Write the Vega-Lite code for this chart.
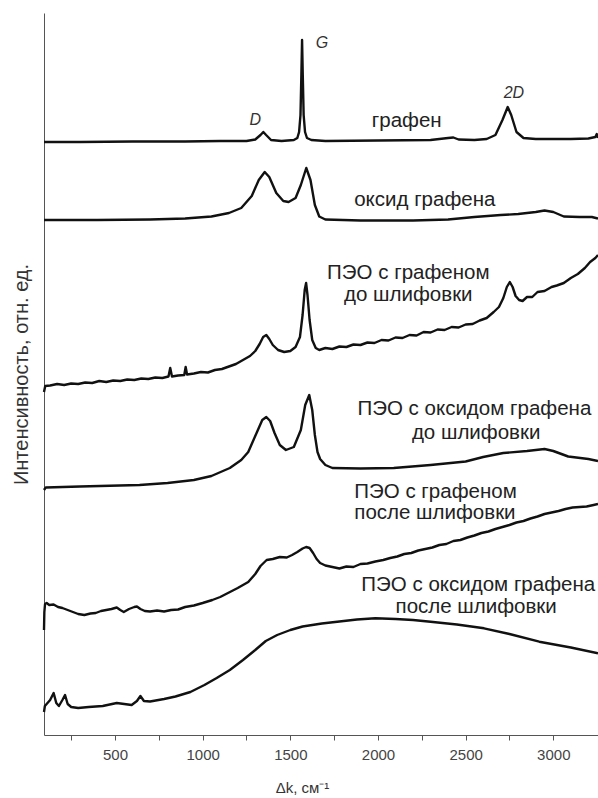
{
"$schema": "https://vega.github.io/schema/vega-lite/v6.json",
"width": 554, "height": 722,
"autosize": "none",
"padding": {"left": 44, "top": 13, "right": 0, "bottom": 63},
"background": "white",
"config": {"view": {"stroke": null}, "font": "Liberation Sans"},
"datasets": {
"spectra": [
{"s":"g","x":95,"y":593},{"s":"g","x":300,"y":593},{"s":"g","x":600,"y":593.5},{"s":"g","x":900,"y":593.5},{"s":"g","x":1100,"y":594},{"s":"g","x":1250,"y":594},{"s":"g","x":1300,"y":595.5},{"s":"g","x":1330,"y":600},{"s":"g","x":1346,"y":603},{"s":"g","x":1362,"y":600},{"s":"g","x":1390,"y":595},{"s":"g","x":1450,"y":594},{"s":"g","x":1520,"y":595},{"s":"g","x":1540,"y":597},{"s":"g","x":1550,"y":603},{"s":"g","x":1558,"y":620},{"s":"g","x":1563,"y":660},{"s":"g","x":1567,"y":695},{"s":"g","x":1571,"y":660},{"s":"g","x":1576,"y":620},{"s":"g","x":1584,"y":603},{"s":"g","x":1595,"y":597},{"s":"g","x":1620,"y":595},{"s":"g","x":1700,"y":594},{"s":"g","x":2000,"y":594.5},{"s":"g","x":2300,"y":595},{"s":"g","x":2400,"y":597},{"s":"g","x":2430,"y":597.5},{"s":"g","x":2460,"y":595.5},{"s":"g","x":2550,"y":595},{"s":"g","x":2620,"y":596},{"s":"g","x":2670,"y":600},{"s":"g","x":2710,"y":615},{"s":"g","x":2740,"y":628},{"s":"g","x":2760,"y":620},{"s":"g","x":2790,"y":603},{"s":"g","x":2830,"y":597},{"s":"g","x":2900,"y":596},{"s":"g","x":3000,"y":596},{"s":"g","x":3100,"y":596},{"s":"g","x":3200,"y":596.5},{"s":"g","x":3240,"y":598},{"s":"g","x":3248,"y":601},{"s":"g","x":3255,"y":597},
{"s":"go","x":95,"y":515},{"s":"go","x":400,"y":515},{"s":"go","x":700,"y":515.5},{"s":"go","x":900,"y":516.5},{"s":"go","x":1050,"y":518.5},{"s":"go","x":1150,"y":522},{"s":"go","x":1220,"y":527},{"s":"go","x":1280,"y":539},{"s":"go","x":1320,"y":555},{"s":"go","x":1354,"y":563},{"s":"go","x":1380,"y":558},{"s":"go","x":1420,"y":542},{"s":"go","x":1460,"y":534},{"s":"go","x":1490,"y":533},{"s":"go","x":1530,"y":537},{"s":"go","x":1560,"y":550},{"s":"go","x":1591,"y":567},{"s":"go","x":1615,"y":555},{"s":"go","x":1640,"y":530},{"s":"go","x":1665,"y":518.5},{"s":"go","x":1700,"y":515.5},{"s":"go","x":1900,"y":514.5},{"s":"go","x":2200,"y":514.5},{"s":"go","x":2400,"y":515.5},{"s":"go","x":2550,"y":518},{"s":"go","x":2700,"y":520},{"s":"go","x":2800,"y":521},{"s":"go","x":2900,"y":523},{"s":"go","x":2950,"y":524.5},{"s":"go","x":3000,"y":523},{"s":"go","x":3060,"y":518.5},{"s":"go","x":3150,"y":518},{"s":"go","x":3220,"y":518},{"s":"go","x":3255,"y":516.5},
{"s":"p1","x":95,"y":343},{"s":"p1","x":102,"y":349},{"s":"p1","x":130,"y":349.5},{"s":"p1","x":170,"y":351},{"s":"p1","x":210,"y":350},{"s":"p1","x":250,"y":351.5},{"s":"p1","x":290,"y":351},{"s":"p1","x":330,"y":352.5},{"s":"p1","x":370,"y":352},{"s":"p1","x":410,"y":354},{"s":"p1","x":450,"y":353},{"s":"p1","x":490,"y":354.5},{"s":"p1","x":530,"y":354},{"s":"p1","x":570,"y":355.5},{"s":"p1","x":610,"y":355},{"s":"p1","x":650,"y":356.5},{"s":"p1","x":690,"y":356},{"s":"p1","x":730,"y":357.5},{"s":"p1","x":770,"y":357},{"s":"p1","x":805,"y":358.5},{"s":"p1","x":815,"y":367},{"s":"p1","x":825,"y":358.5},{"s":"p1","x":860,"y":359.5},{"s":"p1","x":895,"y":360},{"s":"p1","x":903,"y":368},{"s":"p1","x":911,"y":360.5},{"s":"p1","x":950,"y":361.5},{"s":"p1","x":990,"y":363},{"s":"p1","x":1030,"y":362.5},{"s":"p1","x":1070,"y":365},{"s":"p1","x":1110,"y":366},{"s":"p1","x":1150,"y":368.5},{"s":"p1","x":1190,"y":371},{"s":"p1","x":1230,"y":375},{"s":"p1","x":1270,"y":379},{"s":"p1","x":1300,"y":384},{"s":"p1","x":1325,"y":391},{"s":"p1","x":1345,"y":398},{"s":"p1","x":1363,"y":400},{"s":"p1","x":1380,"y":396},{"s":"p1","x":1400,"y":390},{"s":"p1","x":1430,"y":385},{"s":"p1","x":1465,"y":383},{"s":"p1","x":1500,"y":384},{"s":"p1","x":1530,"y":388},{"s":"p1","x":1555,"y":398},{"s":"p1","x":1570,"y":420},{"s":"p1","x":1582,"y":445},{"s":"p1","x":1590,"y":452},{"s":"p1","x":1598,"y":440},{"s":"p1","x":1610,"y":415},{"s":"p1","x":1625,"y":395},{"s":"p1","x":1645,"y":387},{"s":"p1","x":1665,"y":385},{"s":"p1","x":1700,"y":387},{"s":"p1","x":1740,"y":386},{"s":"p1","x":1780,"y":388.5},{"s":"p1","x":1820,"y":388},{"s":"p1","x":1860,"y":390.5},{"s":"p1","x":1900,"y":390},{"s":"p1","x":1940,"y":392.5},{"s":"p1","x":1980,"y":392},{"s":"p1","x":2020,"y":395},{"s":"p1","x":2060,"y":394.5},{"s":"p1","x":2100,"y":397.5},{"s":"p1","x":2140,"y":397},{"s":"p1","x":2180,"y":400},{"s":"p1","x":2220,"y":399.5},{"s":"p1","x":2260,"y":403},{"s":"p1","x":2300,"y":402.5},{"s":"p1","x":2340,"y":405.5},{"s":"p1","x":2380,"y":405},{"s":"p1","x":2420,"y":408},{"s":"p1","x":2460,"y":407.5},{"s":"p1","x":2500,"y":410.5},{"s":"p1","x":2540,"y":411},{"s":"p1","x":2580,"y":414.5},{"s":"p1","x":2620,"y":417},{"s":"p1","x":2660,"y":423},{"s":"p1","x":2690,"y":428},{"s":"p1","x":2715,"y":437},{"s":"p1","x":2735,"y":448},{"s":"p1","x":2752,"y":453},{"s":"p1","x":2768,"y":448},{"s":"p1","x":2785,"y":439},{"s":"p1","x":2805,"y":435},{"s":"p1","x":2825,"y":434},{"s":"p1","x":2850,"y":438},{"s":"p1","x":2880,"y":438},{"s":"p1","x":2910,"y":443},{"s":"p1","x":2950,"y":444},{"s":"p1","x":2990,"y":448},{"s":"p1","x":3020,"y":449.5},{"s":"p1","x":3060,"y":452},{"s":"p1","x":3100,"y":457},{"s":"p1","x":3140,"y":461},{"s":"p1","x":3180,"y":467},{"s":"p1","x":3210,"y":473},{"s":"p1","x":3240,"y":477},{"s":"p1","x":3255,"y":480},
{"s":"p2","x":95,"y":245},{"s":"p2","x":105,"y":247.5},{"s":"p2","x":300,"y":248.5},{"s":"p2","x":640,"y":250},{"s":"p2","x":800,"y":252},{"s":"p2","x":950,"y":255},{"s":"p2","x":1050,"y":259},{"s":"p2","x":1155,"y":267},{"s":"p2","x":1220,"y":275},{"s":"p2","x":1260,"y":283},{"s":"p2","x":1310,"y":303},{"s":"p2","x":1340,"y":315},{"s":"p2","x":1363,"y":318},{"s":"p2","x":1385,"y":314},{"s":"p2","x":1410,"y":302},{"s":"p2","x":1440,"y":290},{"s":"p2","x":1475,"y":285},{"s":"p2","x":1520,"y":288},{"s":"p2","x":1560,"y":305},{"s":"p2","x":1585,"y":330},{"s":"p2","x":1608,"y":340},{"s":"p2","x":1625,"y":325},{"s":"p2","x":1640,"y":300},{"s":"p2","x":1655,"y":283},{"s":"p2","x":1670,"y":276},{"s":"p2","x":1700,"y":270},{"s":"p2","x":1740,"y":267},{"s":"p2","x":1900,"y":266.5},{"s":"p2","x":2090,"y":267},{"s":"p2","x":2300,"y":270},{"s":"p2","x":2500,"y":273.5},{"s":"p2","x":2600,"y":278},{"s":"p2","x":2715,"y":282},{"s":"p2","x":2850,"y":284},{"s":"p2","x":2950,"y":286},{"s":"p2","x":3000,"y":284},{"s":"p2","x":3085,"y":278.5},{"s":"p2","x":3200,"y":276},{"s":"p2","x":3255,"y":274},
{"s":"p3","x":95,"y":105},{"s":"p3","x":97,"y":123},{"s":"p3","x":101,"y":131},{"s":"p3","x":110,"y":132},{"s":"p3","x":125,"y":130},{"s":"p3","x":150,"y":130.5},{"s":"p3","x":175,"y":128},{"s":"p3","x":200,"y":127},{"s":"p3","x":230,"y":125},{"s":"p3","x":260,"y":123},{"s":"p3","x":290,"y":121},{"s":"p3","x":325,"y":120},{"s":"p3","x":360,"y":121.5},{"s":"p3","x":390,"y":122},{"s":"p3","x":420,"y":124},{"s":"p3","x":450,"y":125},{"s":"p3","x":480,"y":126},{"s":"p3","x":510,"y":127.5},{"s":"p3","x":530,"y":125},{"s":"p3","x":550,"y":123},{"s":"p3","x":580,"y":126},{"s":"p3","x":610,"y":128},{"s":"p3","x":625,"y":128.5},{"s":"p3","x":645,"y":126},{"s":"p3","x":670,"y":124},{"s":"p3","x":700,"y":123.5},{"s":"p3","x":740,"y":124.5},{"s":"p3","x":780,"y":123.5},{"s":"p3","x":820,"y":125},{"s":"p3","x":860,"y":125.5},{"s":"p3","x":900,"y":128},{"s":"p3","x":950,"y":129.5},{"s":"p3","x":1000,"y":132},{"s":"p3","x":1055,"y":135},{"s":"p3","x":1100,"y":138},{"s":"p3","x":1150,"y":142.5},{"s":"p3","x":1200,"y":147},{"s":"p3","x":1260,"y":153},{"s":"p3","x":1300,"y":161},{"s":"p3","x":1330,"y":169},{"s":"p3","x":1365,"y":175},{"s":"p3","x":1400,"y":176},{"s":"p3","x":1440,"y":178},{"s":"p3","x":1480,"y":177.5},{"s":"p3","x":1510,"y":180},{"s":"p3","x":1540,"y":183},{"s":"p3","x":1570,"y":186.5},{"s":"p3","x":1590,"y":188},{"s":"p3","x":1610,"y":187},{"s":"p3","x":1630,"y":182},{"s":"p3","x":1650,"y":176},{"s":"p3","x":1670,"y":172},{"s":"p3","x":1700,"y":169.5},{"s":"p3","x":1740,"y":168},{"s":"p3","x":1780,"y":166.5},{"s":"p3","x":1820,"y":168.5},{"s":"p3","x":1860,"y":168},{"s":"p3","x":1900,"y":171},{"s":"p3","x":1940,"y":171.5},{"s":"p3","x":1985,"y":173.5},{"s":"p3","x":2030,"y":175},{"s":"p3","x":2070,"y":177},{"s":"p3","x":2110,"y":178.5},{"s":"p3","x":2150,"y":181},{"s":"p3","x":2190,"y":182},{"s":"p3","x":2230,"y":184.5},{"s":"p3","x":2270,"y":186},{"s":"p3","x":2310,"y":187.5},{"s":"p3","x":2350,"y":190},{"s":"p3","x":2390,"y":191},{"s":"p3","x":2430,"y":194},{"s":"p3","x":2470,"y":195},{"s":"p3","x":2510,"y":197.5},{"s":"p3","x":2550,"y":199.5},{"s":"p3","x":2590,"y":202},{"s":"p3","x":2630,"y":203.5},{"s":"p3","x":2670,"y":206},{"s":"p3","x":2710,"y":208},{"s":"p3","x":2750,"y":210},{"s":"p3","x":2790,"y":212.5},{"s":"p3","x":2830,"y":214},{"s":"p3","x":2870,"y":216.5},{"s":"p3","x":2910,"y":218.5},{"s":"p3","x":2950,"y":221},{"s":"p3","x":2990,"y":222.5},{"s":"p3","x":3030,"y":224},{"s":"p3","x":3070,"y":226},{"s":"p3","x":3110,"y":227.5},{"s":"p3","x":3150,"y":228},{"s":"p3","x":3190,"y":228.5},{"s":"p3","x":3230,"y":230},{"s":"p3","x":3255,"y":231},
{"s":"p4","x":95,"y":23},{"s":"p4","x":100,"y":29},{"s":"p4","x":130,"y":35},{"s":"p4","x":150,"y":42},{"s":"p4","x":165,"y":32},{"s":"p4","x":180,"y":29},{"s":"p4","x":200,"y":35},{"s":"p4","x":215,"y":40},{"s":"p4","x":230,"y":31},{"s":"p4","x":250,"y":28},{"s":"p4","x":290,"y":27},{"s":"p4","x":350,"y":28},{"s":"p4","x":430,"y":29},{"s":"p4","x":510,"y":32},{"s":"p4","x":595,"y":30},{"s":"p4","x":625,"y":34},{"s":"p4","x":645,"y":39},{"s":"p4","x":665,"y":34},{"s":"p4","x":700,"y":33.5},{"s":"p4","x":780,"y":36},{"s":"p4","x":845,"y":38.5},{"s":"p4","x":930,"y":43},{"s":"p4","x":1010,"y":50},{"s":"p4","x":1080,"y":57},{"s":"p4","x":1155,"y":65},{"s":"p4","x":1230,"y":75},{"s":"p4","x":1300,"y":85},{"s":"p4","x":1360,"y":94},{"s":"p4","x":1425,"y":100},{"s":"p4","x":1500,"y":105},{"s":"p4","x":1570,"y":108.5},{"s":"p4","x":1680,"y":111.5},{"s":"p4","x":1780,"y":113.5},{"s":"p4","x":1880,"y":115.5},{"s":"p4","x":1985,"y":116.7},{"s":"p4","x":2100,"y":116},{"s":"p4","x":2200,"y":115},{"s":"p4","x":2300,"y":113.3},{"s":"p4","x":2450,"y":110.5},{"s":"p4","x":2605,"y":106.7},{"s":"p4","x":2750,"y":101},{"s":"p4","x":2920,"y":93.3},{"s":"p4","x":3100,"y":87.5},{"s":"p4","x":3255,"y":81.7}
],
"labels": [
{"x":2164,"y":614,"t":"графен"},
{"x":2267,"y":535,"t":"оксид графена"},
{"x":2173,"y":462,"t":"ПЭО с графеном"},
{"x":2173,"y":440,"t":"до шлифовки"},
{"x":2550,"y":326,"t":"ПЭО с оксидом графена"},
{"x":2560,"y":302,"t":"до шлифовки"},
{"x":2572,"y":150,"t":"ПЭО с оксидом графена"},
{"x":2560,"y":128,"t":"после шлифовки"}
],
"leftlabels": [
{"x":1865,"y":243,"t":"ПЭО с графеном"},
{"x":1865,"y":222,"t":"после шлифовки"}
],
"peaks": [
{"x":1300,"y":615,"t":"D"},
{"x":1680,"y":692,"t":"G"},
{"x":2775,"y":642,"t":"2D"}
]
},
"layer": [
{
"data": {"name": "spectra"},
"mark": {"type": "line", "color": "#111", "strokeWidth": 2.4, "strokeJoin": "round"},
"encoding": {
"x": {"field": "x", "type": "quantitative", "scale": {"domain": [95, 3255], "nice": false, "zero": false},
"axis": {"values": [250, 500, 750, 1000, 1250, 1500, 1750, 2000, 2250, 2500, 2750, 3000], "labelExpr": "datum.value % 500 === 0 ? '' + datum.value : ''", "grid": false, "tickSize": 5, "tickColor": "#555", "domainColor": "#555", "labelColor": "#444", "labelFontSize": 15, "labelPadding": 7, "title": "Δk, см⁻¹", "titleFontSize": 15, "titleFontWeight": "normal", "titleColor": "#333", "titleX": 258, "titleY": 52, "titleBaseline": "middle"}},
"y": {"field": "y", "type": "quantitative", "scale": {"domain": [0, 722], "nice": false},
"axis": {"labels": false, "ticks": false, "grid": false, "domainColor": "#555", "title": "Интенсивность, отн. ед.", "titleFontSize": 20, "titleFontWeight": "normal", "titleColor": "#333", "titlePadding": 13}},
"detail": {"field": "s"}
}
},
{
"data": {"name": "labels"},
"mark": {"type": "text", "fontSize": 20.5, "color": "#222", "align": "center", "baseline": "middle"},
"encoding": {
"x": {"field": "x", "type": "quantitative"},
"y": {"field": "y", "type": "quantitative"},
"text": {"field": "t"}
}
},
{
"data": {"name": "leftlabels"},
"mark": {"type": "text", "fontSize": 20.5, "color": "#222", "align": "left", "baseline": "middle"},
"encoding": {
"x": {"field": "x", "type": "quantitative"},
"y": {"field": "y", "type": "quantitative"},
"text": {"field": "t"}
}
},
{
"data": {"name": "peaks"},
"mark": {"type": "text", "fontSize": 16, "fontStyle": "italic", "color": "#333", "align": "center", "baseline": "middle"},
"encoding": {
"x": {"field": "x", "type": "quantitative"},
"y": {"field": "y", "type": "quantitative"},
"text": {"field": "t"}
}
}
]
}
